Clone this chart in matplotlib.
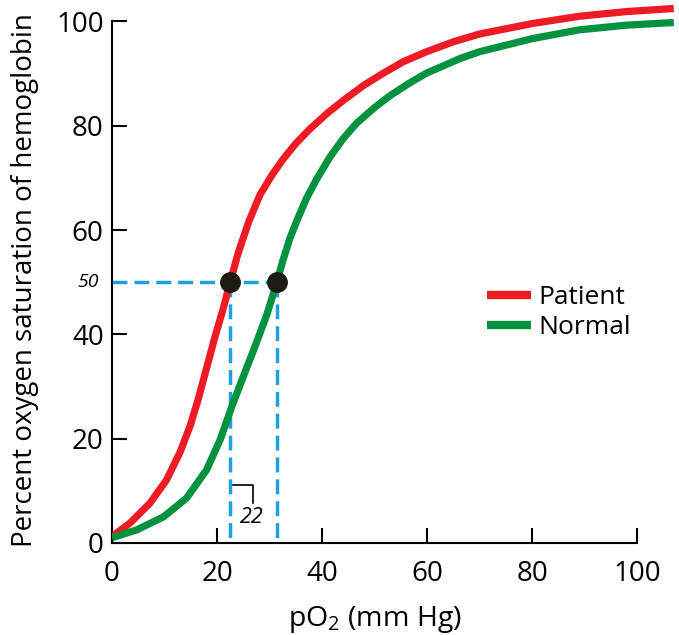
import matplotlib
matplotlib.use("Agg")
import matplotlib.pyplot as plt

plt.rcParams['font.family'] = ['Open Sans', 'DejaVu Sans']
plt.rcParams['mathtext.fontset'] = 'custom'
plt.rcParams['mathtext.rm'] = 'Open Sans'

# Courbes (pO2 en mm Hg, saturation en %)
patient_x = [0, 3.4, 7.2, 10.4, 13, 14.9, 16.4, 18, 19.6, 21.2, 22.5, 24, 26, 28.2, 30.5, 32.6, 35, 37.7, 41, 44.1, 48, 51.7, 55.5, 59.9, 65, 70, 80, 89, 98, 107]
patient_y = [1.2, 3.8, 7.6, 12.1, 17.5, 22.5, 27.5, 33.5, 39.5, 45, 50, 55.5, 61.5, 66.8, 70.6, 73.6, 76.6, 79.4, 82.4, 84.9, 87.8, 90.1, 92.3, 94.2, 96.1, 97.6, 99.6, 101, 101.9, 102.5]

normal_x = [0, 4.7, 9.8, 14.2, 18, 20.6, 22.8, 25, 27.2, 29.5, 31.4, 32.5, 33.9, 35.5, 37.1, 39, 41.5, 44, 46.6, 50, 53, 56.5, 59.9, 66.3, 70, 80, 89, 98, 107]
normal_y = [1, 2.5, 5.0, 8.6, 14, 19.8, 26.1, 31.9, 37.6, 43.8, 50, 54, 58.5, 62.5, 66.2, 69.8, 74, 77.5, 80.5, 83.5, 85.8, 88.1, 90.1, 92.9, 94.2, 96.7, 98.4, 99.3, 99.8]

p50_x = [22.5, 31.4]
p50_y = [50, 50]

x_ticks = [0, 20, 40, 60, 80, 100]
y_ticks = [0, 20, 40, 60, 80, 100]

red = "#ED1C24"
green = "#00923F"
blue = "#1DA1E2"

fig = plt.figure(figsize=(6.79, 6.35), dpi=100)
ax = fig.add_axes([0.165, 0.145, 0.835, 0.854])

# lignes pointillées P50
dash = (0, (4.3, 2.0))
ax.plot([0, p50_x[1]], [50, 50], color=blue, lw=2.5, linestyle=dash, zorder=2)
for px in p50_x:
    ax.plot([px, px], [50, 0], color=blue, lw=2.5, linestyle=dash, zorder=2)

ax.plot(patient_x, patient_y, color=red, lw=5.2, solid_capstyle="butt", solid_joinstyle="round",
        label="Patient", zorder=3)
ax.plot(normal_x, normal_y, color=green, lw=5.2, solid_capstyle="butt", solid_joinstyle="round",
        label="Normal", zorder=3)

ax.plot(p50_x, p50_y, "o", color="#1c1c14", markersize=14, zorder=4)

# petite annotation "22"
ax.plot([23.1, 26.8, 26.8], [11.1, 11.1, 7.7], color="black", lw=1.2, zorder=3)
ax.text(26.7, 4.8, "22", fontsize=15.5, style="italic", ha="center", va="center")
ax.text(-2.6, 50, "50", fontsize=14, style="italic", ha="right", va="center", clip_on=False)

ax.set_xlim(0, 108)
ax.set_ylim(0, 104)
ax.spines["top"].set_visible(False)
ax.spines["right"].set_visible(False)
ax.spines["left"].set_bounds(0, 100)
ax.spines["bottom"].set_bounds(0, 100)
for s in ("left", "bottom"):
    ax.spines[s].set_linewidth(1.5)

ax.set_xticks(x_ticks)
ax.set_yticks(y_ticks)
ax.tick_params(direction="in", length=11, width=1.5, labelsize=20)
ax.tick_params(axis="y", pad=6)
ax.tick_params(axis="x", pad=12)

ax.set_xlabel("pO$_2$ (mm Hg)", fontsize=20.5)
ax.xaxis.set_label_coords(50 / 108, -0.113)
ax.set_ylabel("Percent oxygen saturation of hemoglobin", fontsize=20)
ax.yaxis.set_label_coords(-0.128, 0.485)

leg = ax.legend(frameon=False, loc="center left", bbox_to_anchor=(0.62, 0.425),
                fontsize=19, handlelength=1.65, handletextpad=0.3, labelspacing=0.2)
for line in leg.get_lines():
    line.set_linewidth(6)

fig.savefig("out.png", dpi=100)
